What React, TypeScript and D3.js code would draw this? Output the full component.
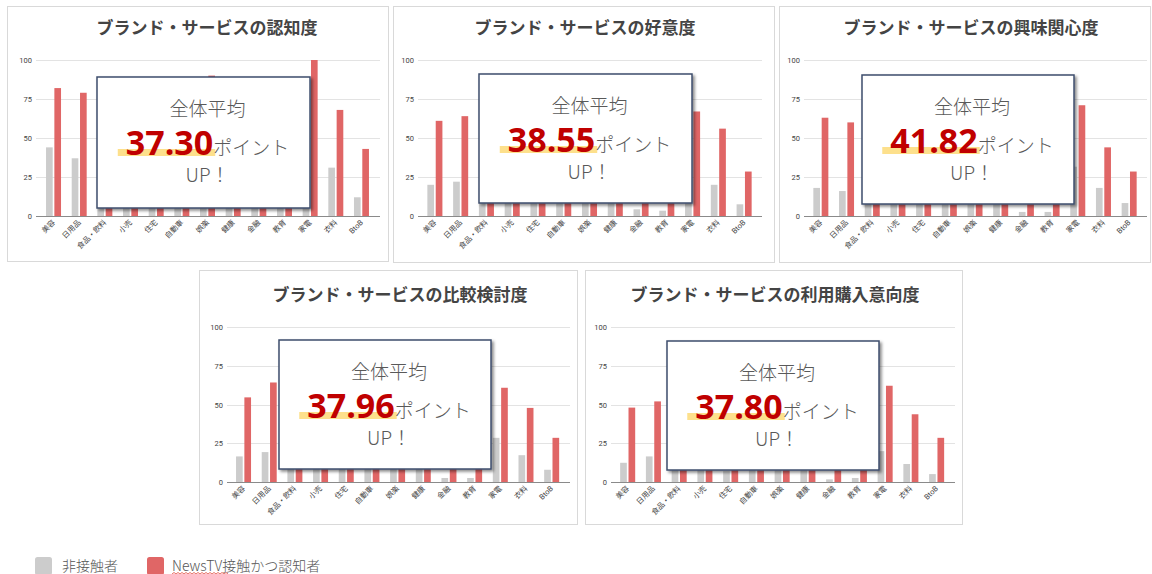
import React, { useEffect, useRef } from 'react';
import * as d3 from 'd3';

// categories on the x axis
const categories = ['美容', '日用品', '食品・飲料', '小売', '住宅', '自動車', '娯楽', '健康', '金融', '教育', '家電', '衣料', 'BtoB'];
const seriesNames = ['非接触者', 'NewsTV接触かつ認知者'];

const titles = [
  'ブランド・サービスの認知度',
  'ブランド・サービスの好意度',
  'ブランド・サービスの興味関心度',
  'ブランド・サービスの比較検討度',
  'ブランド・サービスの利用購入意向度',
];
const averages = ['37.30', '38.55', '41.82', '37.96', '37.80'];
const yTicks = [0, 25, 50, 75, 100];

// values (bars hidden behind the boxes are estimates)
const awarenessNon = [44, 37, 40, 30, 25, 35, 50, 28, 20, 15, 55, 31, 12];
const awarenessNews = [82, 79, 80, 68, 60, 72, 90, 65, 55, 50, 100, 68, 43];
const favorNon = [20, 22, 18, 12, 10, 15, 20, 14, 4.3, 3.4, 25, 20, 7.5];
const favorNews = [61, 64, 58, 50, 48, 55, 62, 52, 42, 40, 67, 56, 28.5];
const interestNon = [18, 16, 15, 10, 8, 12, 18, 10, 2.6, 2.6, 31.6, 18, 8.3];
const interestNews = [63, 60, 58, 52, 48, 55, 62, 50, 42, 40, 71, 44, 28.5];
const considerNon = [16.5, 19.3, 14, 10, 9, 12, 15, 11, 2.6, 2.6, 28.5, 17.3, 7.9];
const considerNews = [54.6, 64.2, 55, 50, 48, 52, 58, 50, 40, 38, 60.8, 47.8, 28.5];
const intentNon = [12.4, 16.5, 12, 8, 7, 10, 13, 9, 1.7, 2.6, 19.9, 11.6, 5.1];
const intentNews = [48, 52, 50, 45, 42, 48, 52, 46, 38, 36, 62.1, 43.7, 28.5];

const nonSeries = [awarenessNon, favorNon, interestNon, considerNon, intentNon];
const newsSeries = [awarenessNews, favorNews, interestNews, considerNews, intentNews];

// panel layout in page pixels
const layout = [
  { frame: [7, 6, 381, 255], grid: [36, 380], y: [216, 60], band: [40.7, 374.3], title: [207, 34], box: [97, 77, 213, 131] },
  { frame: [393, 6, 381, 256], grid: [418, 762], y: [216, 60], band: [422, 757], title: [585, 34], box: [479, 74, 213, 129] },
  { frame: [779, 6, 371, 256], grid: [804, 1147], y: [216, 60], band: [808, 1142], title: [971, 34], box: [862, 75, 212, 129] },
  { frame: [199, 270, 378, 254], grid: [227, 570], y: [482, 327], band: [230.7, 564.5], title: [400, 301], box: [279, 340, 212, 129] },
  { frame: [585, 270, 377, 254], grid: [611, 955], y: [482, 327], band: [614.8, 949.5], title: [775, 301], box: [667, 341, 212, 129] },
];

const colors = ['#cccccc', '#e06666'];
const W = 1152;
const H = 574;
const cjk = "'Noto Sans CJK JP', 'Noto Sans', sans-serif";
const small = "Roboto, 'Noto Sans CJK JP', sans-serif";

const App: React.FC = () => {
  const svgRef = useRef<SVGSVGElement>(null);

  useEffect(() => {
    if (!svgRef.current) return;
    const svg = d3.select(svgRef.current);
    svg.selectAll('*').remove();

    const defs = svg.append('defs');
    const f = defs.append('filter').attr('id', 'shadow').attr('x', '-10%').attr('y', '-10%').attr('width', '130%').attr('height', '130%');
    f.append('feDropShadow').attr('dx', 2).attr('dy', 2).attr('stdDeviation', 1.5).attr('flood-color', '#000').attr('flood-opacity', 0.45);

    svg.append('rect').attr('width', W).attr('height', H).attr('fill', '#fff');

    layout.forEach((L, i) => {
      const g = svg.append('g');
      const [fx, fy, fw, fh] = L.frame;
      g.append('rect').attr('x', fx + 0.5).attr('y', fy + 0.5).attr('width', fw).attr('height', fh)
        .attr('fill', '#fff').attr('stroke', '#d9d9d9');

      g.append('text').attr('x', L.title[0]).attr('y', L.title[1]).attr('text-anchor', 'middle')
        .style('font-family', cjk).style('font-size', '17px').style('font-weight', 700).attr('fill', '#444')
        .text(titles[i]);

      const y = d3.scaleLinear().domain([0, 100]).range(L.y);
      const x0 = d3.scaleBand<string>().domain(categories).range(L.band as [number, number]).paddingInner(0.416).paddingOuter(0.208);
      const x1 = d3.scaleBand<number>().domain([0, 1]).range([0, x0.bandwidth()]).paddingInner(0.2);

      g.append('g').selectAll('line').data(yTicks).join('line')
        .attr('x1', L.grid[0]).attr('x2', L.grid[1])
        .attr('y1', d => Math.round(y(d)) + 0.5).attr('y2', d => Math.round(y(d)) + 0.5)
        .attr('stroke', d => d === 0 ? '#8a8a8a' : '#e3e3e3').attr('stroke-width', 1);

      g.append('g').selectAll('text').data(yTicks).join('text')
        .attr('x', L.grid[0] - 4).attr('y', d => y(d) + 3).attr('text-anchor', 'end')
        .style('font-family', small).style('font-size', '7.5px').attr('fill', '#444')
        .text(d => String(d));

      const series = [nonSeries[i], newsSeries[i]];
      series.forEach((vals, s) => {
        g.append('g').selectAll('rect').data(vals).join('rect')
          .attr('x', (_, k) => (x0(categories[k]) as number) + (x1(s) as number))
          .attr('width', x1.bandwidth())
          .attr('y', d => y(d))
          .attr('height', d => y(0) - y(d))
          .attr('fill', colors[s]);
      });

      g.append('g').selectAll('text').data(categories).join('text')
        .attr('transform', d => `translate(${(x0(d) as number) + x0.bandwidth() / 2 + 2},${y(0) + 7}) rotate(-45)`)
        .attr('text-anchor', 'end')
        .style('font-family', small).style('font-size', '7.5px').attr('fill', '#444')
        .text(d => d);

      // overlay box
      const [bx, by, bw, bh] = L.box;
      const b = g.append('g').attr('transform', `translate(${bx},${by})`);
      b.append('rect').attr('width', bw).attr('height', bh).attr('fill', '#fff')
        .attr('stroke', '#3e4e6c').attr('stroke-width', 1.5).attr('filter', 'url(#shadow)');
      const cx = bw / 2 + 4;
      b.append('text').attr('x', cx).attr('y', 39).attr('text-anchor', 'middle')
        .style('font-family', cjk).style('font-size', '19px').style('font-weight', 300).attr('fill', '#595959')
        .text('全体平均');
      const hl = b.append('rect').attr('fill', '#fde08c');
      const line = b.append('text').attr('x', cx).attr('y', 78).attr('text-anchor', 'middle');
      const num = line.append('tspan')
        .style('font-family', "'Open Sans', 'Noto Sans', sans-serif").style('font-size', '34px').style('font-weight', 700)
        .attr('fill', '#c00000').text(averages[i]);
      line.append('tspan')
        .style('font-family', cjk).style('font-size', '19px').style('font-weight', 300).attr('fill', '#595959')
        .text('ポイント');
      const bb = (line.node() as SVGTextElement).getBBox();
      const nl = (num.node() as SVGTSpanElement).getComputedTextLength();
      hl.attr('x', bb.x - 8).attr('width', nl + 10).attr('y', 72).attr('height', 7);
      b.append('text').attr('x', cx).attr('y', 105).attr('text-anchor', 'middle')
        .style('font-family', cjk).style('font-size', '19px').style('font-weight', 300).attr('fill', '#595959')
        .text('UP！');
    });

    // legend
    const lg = svg.append('g');
    const items = [{ x: 35, tx: 62 }, { x: 147, tx: 172 }];
    items.forEach((it, s) => {
      lg.append('rect').attr('x', it.x).attr('y', 557).attr('width', 17).attr('height', 18).attr('rx', 2.5).attr('fill', colors[s]);
      lg.append('text').attr('x', it.tx).attr('y', 570.5)
        .style('font-family', cjk).style('font-size', '14px').style('font-weight', 300).attr('fill', '#555')
        .text(seriesNames[s]);
    });
    // spell-check squiggle under "NewsTV"
    const pts: [number, number][] = d3.range(172, 229, 2).map((px, k) => [px, k % 2 ? 572.5 : 574]);
    lg.append('path').attr('d', d3.line()(pts)).attr('fill', 'none').attr('stroke', '#e0453a').attr('stroke-width', 0.8);
  }, []);

  return (
    <svg ref={svgRef} width={W} height={H} style={{ position: 'absolute', left: 0, top: 0, display: 'block' }} />
  );
};

export default App;
